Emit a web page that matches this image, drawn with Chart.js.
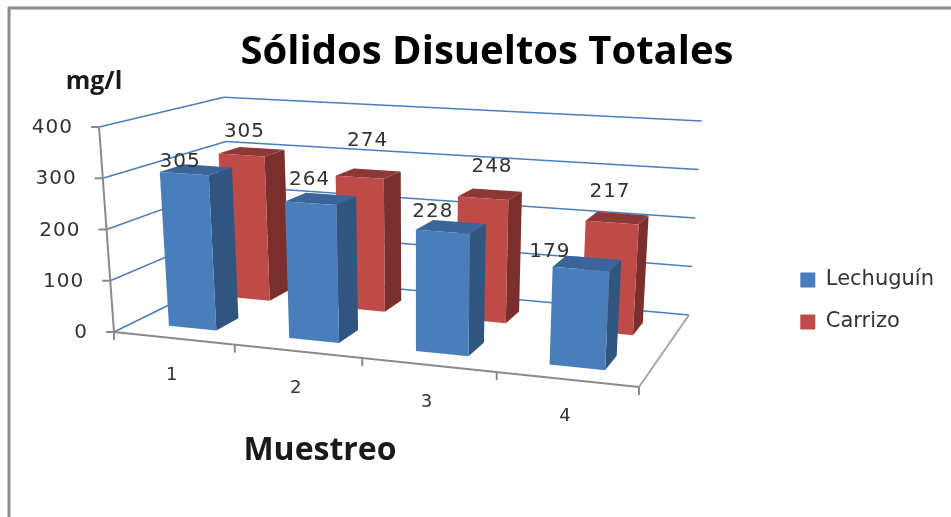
<!DOCTYPE html>
<html>
<head>
<meta charset="utf-8">
<title>Sólidos Disueltos Totales</title>
<script src="https://cdnjs.cloudflare.com/ajax/libs/Chart.js/4.4.1/chart.umd.min.js"></script>
<style>
  html, body { margin: 0; padding: 0; background: #fff; }
  canvas { display: block; }
</style>
</head>
<body>
<canvas id="chart" width="951" height="517"></canvas>
<script>
const muestreos = ['1', '2', '3', '4'];
const lechuguin = [305, 264, 228, 179];
const carrizo = [305, 274, 248, 217];
const valorMaximo = 400;
const pasoEje = 100;

// Floor of the 3D box on screen (front-left, front-right, back-right, back-left)
const floorQuad = [[114, 332], [639, 387], [689, 315], [232, 274]];
// Full axis height at the front-left corner, other corners follow from the perspective
const boxHeight = 205;
// Verticals lean away from this x, more the higher they go
const vanishX = 418;
const leanPerPx = 0.00024;

// Depth of each series inside the box, 0 = front edge, 1 = back wall
const depthRanges = [[0.15, 0.34], [0.63, 0.82]];

// Excel placed the value labels by hand-ish, small nudges from the top of each bar
const labelNudges = [
  [[-4, -11.5], [-1, -23.5], [-10, -20], [-31, -17.5]],
  [[3, -23.5], [8, -36.5], [9, -31.5], [-2, -31]]
];

function homography(q) {
  const [[x0, y0], [x1, y1], [x2, y2], [x3, y3]] = q;
  const dx1 = x1 - x2, dx2 = x3 - x2, sx = x0 - x1 + x2 - x3;
  const dy1 = y1 - y2, dy2 = y3 - y2, sy = y0 - y1 + y2 - y3;
  const den = dx1 * dy2 - dx2 * dy1;
  const g = (sx * dy2 - dx2 * sy) / den;
  const h = (dx1 * sy - sx * dy1) / den;
  const a = x1 - x0 + g * x1, b = x3 - x0 + h * x3;
  const d = y1 - y0 + g * y1, e = y3 - y0 + h * y3;
  return (u, v) => {
    const w = g * u + h * v + 1;
    return [(a * u + b * v + x0) / w, (d * u + e * v + y0) / w, w];
  };
}
const floorAt = homography(floorQuad);

// u along the categories, v into the depth, t up the value axis (all 0..1)
function project(u, v, t) {
  const [x, y, w] = floorAt(u, v);
  const rise = t * boxHeight / w;
  return [x + rise * (x - vanishX) * leanPerPx, y - rise];
}

function poly(ctx, pts, fill) {
  ctx.beginPath();
  pts.forEach((p, i) => i ? ctx.lineTo(p[0], p[1]) : ctx.moveTo(p[0], p[1]));
  ctx.closePath();
  ctx.fillStyle = fill;
  ctx.fill();
}

function line(ctx, a, b, color, width) {
  ctx.beginPath();
  ctx.moveTo(a[0], a[1]);
  ctx.lineTo(b[0], b[1]);
  ctx.strokeStyle = color;
  ctx.lineWidth = width;
  ctx.stroke();
}

function text(ctx, str, x, y, font, align, spacing, color) {
  ctx.font = font;
  ctx.textAlign = align;
  ctx.textBaseline = 'middle';
  ctx.letterSpacing = spacing || '0px';
  ctx.fillStyle = color || '#333333';
  ctx.fillText(str, x, y);
  ctx.letterSpacing = '0px';
}

const box3d = {
  id: 'box3d',
  beforeDraw(chart) {
    const ctx = chart.ctx;
    ctx.save();
    // border of the pasted picture
    line(ctx, [9, 517], [9, 7], '#8c8c8c', 3);
    line(ctx, [8, 8], [951, 8], '#8c8c8c', 3);
    ctx.restore();
  },
  beforeDatasetsDraw(chart) {
    const ctx = chart.ctx, ys = chart.scales.y, xs = chart.scales.x;
    const area = chart.chartArea;
    ctx.save();
    ys.ticks.forEach(tick => {
      const t = (area.bottom - ys.getPixelForValue(tick.value)) / area.height;
      const a = project(0, 0, t), b = project(0, 1, t), c = project(1, 1, t);
      line(ctx, a, b, '#4a7ebb', 1.5);
      line(ctx, b, c, '#4a7ebb', 1.5);
    });
    const grey = '#8a8a8a';
    line(ctx, project(0, 0, 0), project(0, 0, 1), grey, 2);
    line(ctx, project(0, 0, 0), project(1, 0, 0), grey, 2);
    line(ctx, project(1, 0, 0), project(1, 1, 0), '#a6a6a6', 2);
    ys.ticks.forEach(tick => {
      const t = (area.bottom - ys.getPixelForValue(tick.value)) / area.height;
      const p = project(0, 0, t);
      line(ctx, [p[0] - 8, p[1]], p, grey, 2);
      text(ctx, tick.label, p[0] - 26, p[1] + 1, '20px "DejaVu Sans"', 'right', '1px');
    });
    for (let i = 0; i <= muestreos.length; i++) {
      const p = project(i / muestreos.length, 0, 0);
      line(ctx, p, [p[0], p[1] + 8], grey, 2);
    }
    xs.ticks.forEach((tick, i) => {
      const u = (xs.getPixelForTick(i) - area.left) / area.width;
      const p = project(u, 0, 0);
      text(ctx, tick.label, p[0] - 2, p[1] + 37, '18px "DejaVu Sans"', 'center');
    });
    text(ctx, ys.options.title.text, 94, 82, 'bold 25px "Open Sans"', 'center', '0px', '#1a1a1a');
    text(ctx, xs.options.title.text, 320, 451, 'bold 32px "Open Sans"', 'center', '0px', '#1a1a1a');
    ctx.restore();
  },
  beforeDatasetDraw(chart, args) {
    const ctx = chart.ctx, area = chart.chartArea;
    const ds = chart.data.datasets[args.index];
    const [v0, v1] = depthRanges[args.index];
    ctx.save();
    args.meta.data.forEach(el => {
      const u0 = (el.x - el.width / 2 - area.left) / area.width;
      const u1 = (el.x + el.width / 2 - area.left) / area.width;
      const t = (area.bottom - el.y) / area.height;
      poly(ctx, [project(u0, v0, t), project(u1, v0, t), project(u1, v1, t), project(u0, v1, t)], ds.topColor);
      poly(ctx, [project(u1, v0, 0), project(u1, v1, 0), project(u1, v1, t), project(u1, v0, t)], ds.sideColor);
      poly(ctx, [project(u0, v0, 0), project(u1, v0, 0), project(u1, v0, t), project(u0, v0, t)], ds.backgroundColor);
    });
    ctx.restore();
    return false;
  },
  afterDatasetsDraw(chart) {
    const ctx = chart.ctx, area = chart.chartArea;
    ctx.save();
    chart.data.datasets.forEach((ds, di) => {
      const [v0] = depthRanges[di];
      chart.getDatasetMeta(di).data.forEach((el, i) => {
        const u = (el.x - area.left) / area.width;
        const t = (area.bottom - el.y) / area.height;
        const p = project(u, v0, t);
        const n = labelNudges[di][i];
        text(ctx, String(ds.data[i]), p[0] + n[0], p[1] + n[1], '20px "DejaVu Sans"', 'center', '1px');
      });
    });
    ctx.restore();
  }
};

new Chart(document.getElementById('chart'), {
  type: 'bar',
  data: {
    labels: muestreos,
    datasets: [
      { label: 'Lechuguín', data: lechuguin, backgroundColor: '#4a7ebb', sideColor: '#30557f', topColor: '#39659a' },
      { label: 'Carrizo', data: carrizo, backgroundColor: '#be4b48', sideColor: '#7a2f2d', topColor: '#8c3836' }
    ]
  },
  options: {
    responsive: false,
    animation: false,
    layout: { padding: { left: 30, top: 29, bottom: 0, right: 7 } },
    datasets: { bar: { grouped: false, categoryPercentage: 1, barPercentage: 0.40 } },
    scales: {
      x: { display: false, title: { text: 'Muestreo' } },
      y: {
        display: false,
        min: 0,
        max: valorMaximo,
        ticks: { stepSize: pasoEje },
        title: { text: 'mg/l' }
      }
    },
    plugins: {
      title: {
        display: true,
        text: 'Sólidos Disueltos Totales',
        color: '#000000',
        font: { family: '"Open Sans"', size: 40, weight: 'bold' },
        padding: { top: 0, bottom: 8 }
      },
      legend: {
        position: 'right',
        fullSize: false,
        labels: {
          boxWidth: 15,
          boxHeight: 15,
          padding: 21,
          color: '#333333',
          font: { family: '"DejaVu Sans"', size: 21 }
        }
      },
      tooltip: { enabled: false }
    }
  },
  plugins: [box3d]
});
</script>
</body>
</html>
